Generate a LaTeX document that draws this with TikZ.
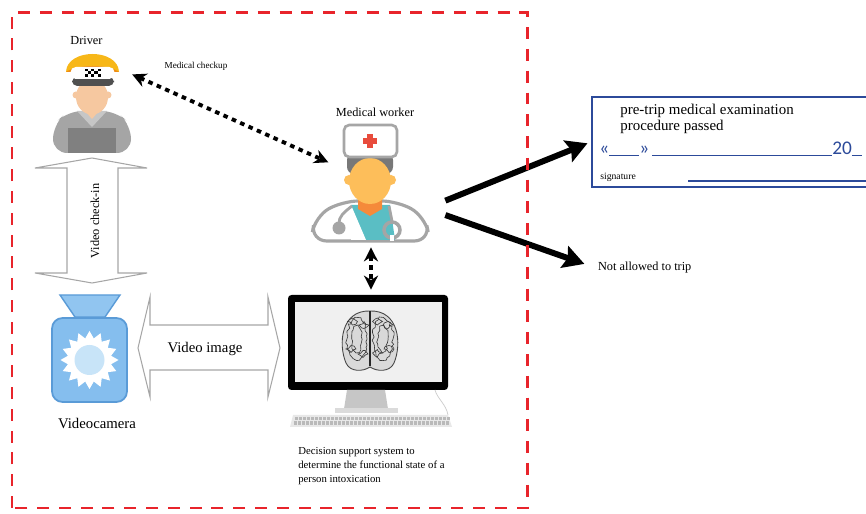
\documentclass[tikz,border=0pt]{standalone}
\usepackage{fontspec}
\setmainfont{Liberation Serif}
\newfontfamily\certfont{Carlito}
\usetikzlibrary{arrows.meta, positioning, shapes.geometric, decorations.pathmorphing}

\definecolor{frame}{RGB}{232,36,43}
\definecolor{capyellow}{RGB}{247,183,24}
\definecolor{caporange}{RGB}{238,140,20}
\definecolor{skin}{RGB}{246,200,160}
\definecolor{drvgray}{RGB}{165,165,165}
\definecolor{drvdark}{RGB}{128,128,128}
\definecolor{visor}{RGB}{80,80,80}
\definecolor{medface}{RGB}{253,190,90}
\definecolor{medneck}{RGB}{245,138,58}
\definecolor{hair}{RGB}{120,120,120}
\definecolor{coatgray}{RGB}{165,165,165}
\definecolor{shirt}{RGB}{90,190,196}
\definecolor{crossred}{RGB}{232,76,61}
\definecolor{camblue}{RGB}{133,190,238}
\definecolor{camedge}{RGB}{90,155,215}
\definecolor{camlight}{RGB}{200,228,248}
\definecolor{certblue}{RGB}{44,74,154}

\tikzset{
  lbl/.style={font=\fontsize{7}{8}\selectfont, inner sep=1pt},
  tinylbl/.style={font=\fontsize{5.2}{6}\selectfont, inner sep=1pt},
  biglbl/.style={font=\fontsize{8.4}{10}\selectfont, inner sep=1pt},
  dotarrow/.style={line width=2.2pt, dash pattern=on 2.6pt off 2.6pt,
    {Stealth[length=8pt,width=8pt]}-{Stealth[length=8pt,width=8pt]}},
  thickarrow/.style={line width=3.4pt, -{Stealth[length=12pt,width=13pt,inset=2pt]}},
  blockarrow/.style={draw=gray!70, fill=white, line width=0.6pt},
  gyrus/.style={gray!45!black, line width=0.35pt, decorate,
    decoration={random steps, segment length=1.6pt, amplitude=0.8pt}},
  hidden/.style={inner sep=0pt, draw=none}
}

\begin{document}
\begin{tikzpicture}
    \useasboundingbox (0,0) rectangle (17.32,10.28);
    \fill[white] (0,0) rectangle (17.32,10.28);

    % Driver
    \node[lbl] (drvlabel) at (1.73,9.48) {Driver};
    \fill[drvgray, rounded corners=8pt] (1.06,7.22) -- (1.06,7.78) -- (1.36,8.06)
        -- (2.32,8.06) -- (2.62,7.78) -- (2.62,7.22) -- cycle;
    \fill[drvdark] (1.36,7.22) rectangle (2.32,7.72);
    \fill[gray!45] (1.54,8.06) -- (1.84,7.74) -- (2.14,8.06) -- cycle;
    \fill[skin] (1.70,8.06) -- (1.84,7.90) -- (1.98,8.06) -- (1.98,8.20) -- (1.70,8.20) -- cycle;
    \fill[skin] (1.52,8.38) circle (0.07);
    \fill[skin] (2.16,8.38) circle (0.07);
    \fill[skin] (1.84,8.34) ellipse (0.32 and 0.35);
    \fill[visor, rounded corners=3pt] (1.44,8.56) rectangle (2.28,8.74);
    \fill[capyellow] (1.32,8.84) .. controls (1.34,9.32) and (2.36,9.32) .. (2.38,8.84) -- cycle;
    \fill[caporange] (1.32,8.84) .. controls (1.55,9.00) and (2.15,9.00) .. (2.38,8.84) -- cycle;
    \node[hidden, fill=white, rounded corners=3pt, minimum width=0.88cm, minimum height=0.24cm] (drvband) at (1.85,8.82) {};
    \foreach \i/\j in {0/0,2/0,4/0,1/1,3/1,0/2,2/2,4/2}
        \fill[black] (1.69+\i*0.065, 8.74+\j*0.055) rectangle ++(0.065,0.055);

    \node[tinylbl] (checkup) at (3.92,8.96) {Medical checkup};

    % Medical worker
    \node[lbl] (medlabel) at (7.50,8.04) {Medical worker};
    \node[hidden, minimum width=2.96cm, minimum height=2.34cm] (medic) at (7.42,6.61) {};
    \filldraw[fill=white, draw=coatgray, line width=1.8pt, rounded corners=9pt]
        (6.22,5.46) -- (6.30,5.95) -- (6.85,6.26) -- (7.95,6.26) -- (8.50,5.95) -- (8.60,5.46) -- cycle;
    \fill[shirt] (7.02,5.48) -- (7.02,6.18) -- (7.80,6.18) -- (7.90,5.48) -- cycle;
    \fill[white] (7.02,6.18) -- (7.02,5.48) -- (7.32,5.48) -- cycle;
    \fill[medneck] (7.16,6.10) -- (7.16,6.36) -- (7.64,6.36) -- (7.64,6.10) -- (7.40,5.96) -- cycle;
    % stethoscope
    \draw[coatgray, line width=1.6pt] (7.04,6.16) .. controls (6.86,6.02) and (6.78,5.94) .. (6.78,5.82);
    \fill[coatgray] (6.78,5.72) circle (0.13);
    \draw[coatgray, line width=1.6pt] (7.78,6.16) -- (7.84,5.86);
    \draw[coatgray, line width=2pt] (7.84,5.68) circle (0.16);
    \fill[white] (7.80,5.46) rectangle (7.88,5.58);
    % head and cap
    \fill[hair, rounded corners=4pt] (6.94,6.80) rectangle (7.86,7.22);
    \fill[medface] (6.98,6.68) circle (0.1);
    \fill[medface] (7.82,6.68) circle (0.1);
    \node[hidden, ellipse, fill=medface, minimum width=0.84cm, minimum height=0.92cm] (medhead) at (7.40,6.66) {};
    \filldraw[fill=white, draw=gray!70, line width=1.5pt, rounded corners=3pt] (6.88,7.14) rectangle (7.94,7.78);
    \fill[crossred] (7.26,7.39) rectangle (7.54,7.51);
    \fill[crossred] (7.34,7.31) rectangle (7.46,7.59);

    \draw[dotarrow, shorten <=0.38cm, shorten >=0.48cm] (drvband.north east) -- (medhead);

    % Video check-in arrow
    \draw[blockarrow] (1.34,6.92) -- (0.70,6.92) -- (1.84,7.12) -- (2.94,6.92) -- (2.36,6.92)
        -- (2.36,4.82) -- (2.94,4.82) -- (1.84,4.62) -- (0.70,4.82) -- (1.34,4.82) -- cycle;
    \node[lbl, rotate=90] (checkin) at (1.90,5.86) {Video check-in};

    % Videocamera
    \node[hidden, minimum width=1.5cm, minimum height=2.14cm] (camera) at (1.79,3.31) {};
    \filldraw[fill=camblue!90, draw=camedge, line width=0.8pt] (1.20,4.38) -- (2.40,4.38) -- (2.10,3.94) -- (1.50,3.94) -- cycle;
    \filldraw[fill=camblue, draw=camedge, line width=1pt, rounded corners=6pt] (1.04,2.24) rectangle (2.54,3.92);
    \node[star, star points=16, star point ratio=1.32, fill=white, minimum size=1.16cm, inner sep=0] (sun) at (1.79,3.08) {};
    \fill[camlight] (sun.center) circle (0.3);
    \node[biglbl] (camlabel) at (1.94,1.82) {Videocamera};

    % Video image arrow
    \draw[blockarrow] (3.00,3.78) -- (3.00,4.34) -- (2.76,3.32) -- (3.00,2.34) -- (3.00,2.88)
        -- (5.36,2.88) -- (5.36,2.34) -- (5.60,3.32) -- (5.36,4.34) -- (5.36,3.78) -- cycle;
    \node[biglbl] (vidimage) at (4.10,3.30) {Video image};

    % Monitor with brain
    \node[hidden, fill=black, rounded corners=2pt, minimum width=3.2cm, minimum height=1.9cm] (monitor) at (7.36,3.43) {};
    \fill[gray!12] (5.90,2.64) rectangle (8.84,4.24);
    \fill[gray!45] (6.94,2.48) -- (7.70,2.48) -- (7.76,2.10) -- (6.88,2.10) -- cycle;
    \fill[gray!28] (6.70,2.02) rectangle (7.95,2.12);
    \draw[gray!40] (8.70,2.48) .. controls (8.75,2.30) and (8.92,2.20) .. (8.96,1.98);
    \fill[gray!18] (5.80,1.74) -- (9.04,1.74) -- (8.96,1.98) -- (5.86,1.98) -- cycle;
    \foreach \k in {0,...,38} {
        \fill[gray!55] (5.88+\k*0.08,1.78) rectangle ++(0.05,0.07);
        \fill[gray!55] (5.90+\k*0.08,1.88) rectangle ++(0.05,0.06);
    }
    \filldraw[fill=gray!30, draw=gray!55!black, line width=0.5pt]
        (7.40,4.06) .. controls (7.98,4.08) and (8.04,3.40) .. (7.88,3.02)
        .. controls (7.80,2.84) and (7.55,2.84) .. (7.40,2.94)
        .. controls (7.25,2.84) and (7.00,2.84) .. (6.92,3.02)
        .. controls (6.76,3.40) and (6.82,4.08) .. (7.40,4.06) -- cycle;
    \foreach \cx/\rx/\ry in {7.14/0.20/0.42, 7.14/0.10/0.26, 7.66/0.20/0.42, 7.66/0.10/0.26}
        \draw[gyrus] (\cx,3.50) ellipse (\rx cm and \ry cm);
    \foreach \cx/\cy in {7.05/3.85, 7.28/3.78, 7.02/3.30, 7.26/3.20, 7.55/3.85, 7.76/3.78, 7.55/3.22, 7.78/3.30}
        \draw[gyrus] (\cx-0.1,\cy) -- (\cx,\cy+0.07) -- (\cx+0.1,\cy) -- (\cx,\cy-0.07) -- cycle;
    \draw[gray!30!black, line width=0.6pt] (7.40,4.05) -- (7.40,2.96);
    \node[anchor=north west, inner sep=0pt, align=left, font=\fontsize{6.1}{7.7}\selectfont] (dss) at (5.96,1.33)
        {Decision support system to\\determine the functional state of a\\person intoxication};

    \draw[dotarrow] ([yshift=-0.1cm]medic.south) -- ([yshift=0.1cm]medic.south |- monitor.north);

    % Certificate and refusal
    \node[hidden, draw=certblue, line width=1.4pt, minimum width=5.66cm, minimum height=1.8cm] (cert) at (14.67,7.44) {};
    \node[anchor=north west, inner sep=0pt, align=left, font=\fontsize{8.5}{8.8}\selectfont] (certtext) at (12.40,8.20)
        {pre-trip medical examination\\procedure passed};
    \node[anchor=west, inner sep=0pt, text=certblue, font=\certfont\fontsize{11}{11}\selectfont] (certdate) at (11.98,7.30)
        {«\rule[-1pt]{0.6cm}{0.5pt}»\,\rule[-1pt]{3.6cm}{0.5pt}20\rule[-1pt]{0.2cm}{0.5pt}};
    \node[anchor=west, inner sep=0pt, font=\fontsize{5.5}{6}\selectfont] (sign) at (12.00,6.74) {signature};
    \draw[certblue, line width=0.8pt] (13.76,6.66) -- (17.40,6.66);
    \node[lbl, anchor=west] (noentry) at (11.92,4.92) {Not allowed to trip};

    \draw[thickarrow, shorten >=2pt] (medic.-13) -- (cert.west);
    \draw[thickarrow, shorten >=7pt] (medic.-23) -- (noentry.west);

    % Dashed frame
    \draw[frame, line width=1.7pt, dash pattern=on 6.8pt off 5.6pt] (0.24,0.12) rectangle (10.54,10.02);
\end{tikzpicture}
\end{document}
